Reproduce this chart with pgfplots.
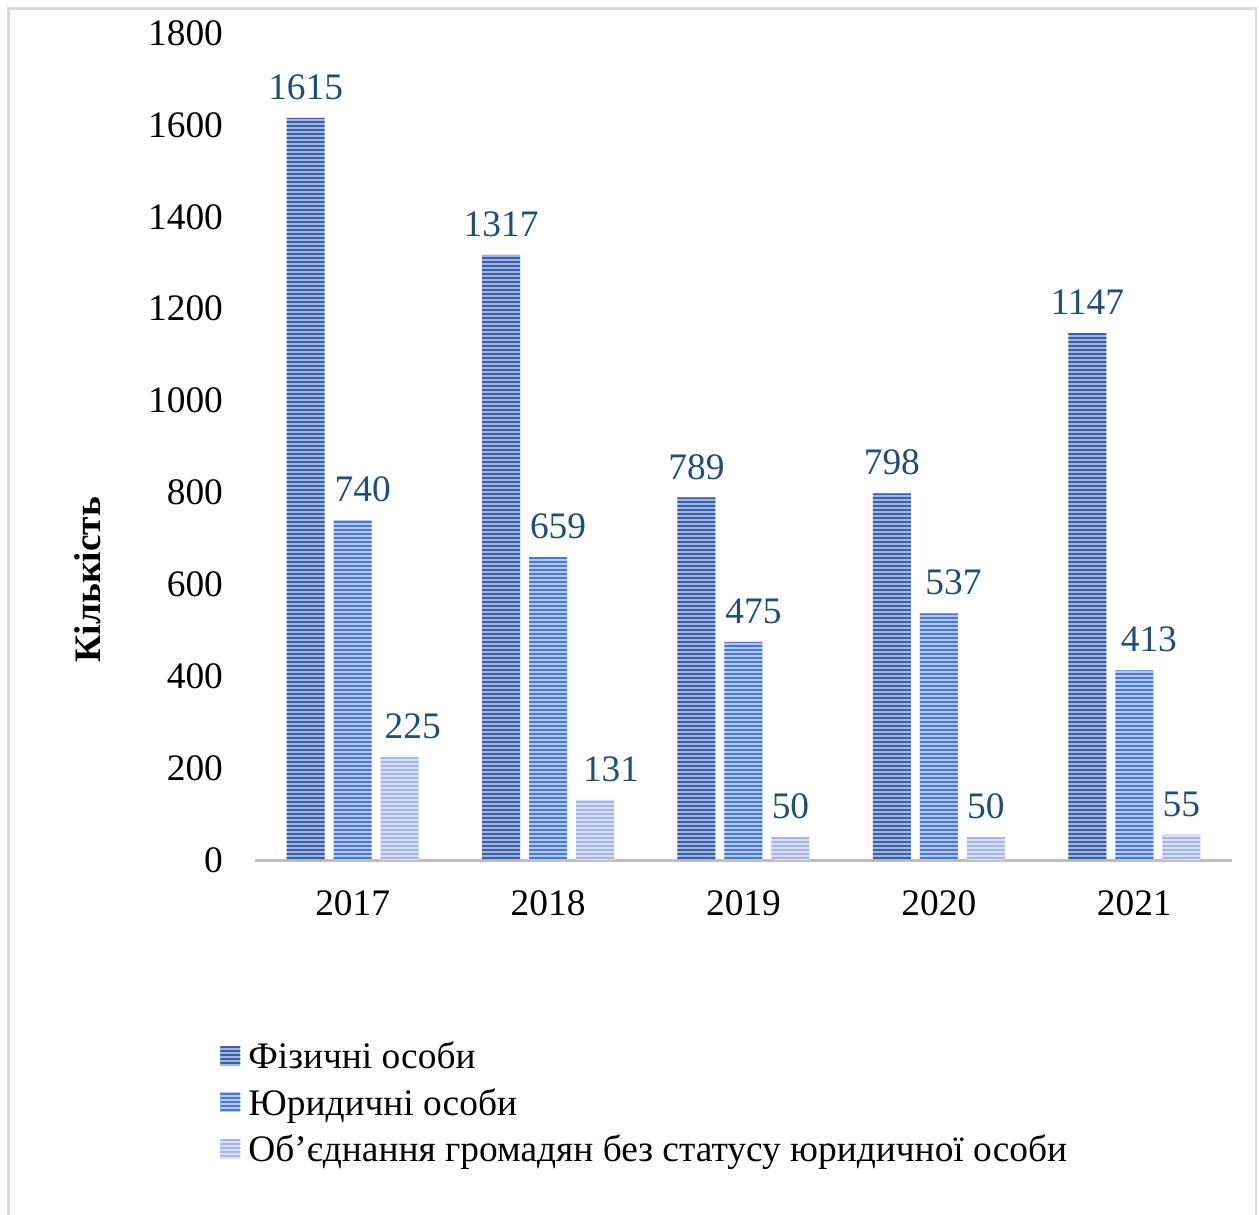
\documentclass[border=0pt]{standalone}
\usepackage{pgfplots}
\pgfplotsset{compat=1.18}
\usepackage{fontspec}
\setmainfont{Liberation Serif}
\usetikzlibrary{patterns.meta}
\definecolor{aL}{HTML}{9FB4DE}
\definecolor{aD}{HTML}{3A61A6}
\definecolor{bL}{HTML}{B3C7EE}
\definecolor{bD}{HTML}{4B79C9}
\definecolor{cL}{HTML}{D6DFF3}
\definecolor{cD}{HTML}{A6B8E2}
\definecolor{lab}{HTML}{1F4E79}
\tikzdeclarepattern{name=hstripes, type=uncolored,
  bounding box={(0,0) and (40pt,2.1pt)}, tile size={(40pt,2.1pt)},
  code={\fill (-1pt,0) rectangle (41pt,1.05pt);}}
\newcommand{\fs}{\fontsize{18.7}{22}\selectfont}
\begin{document}
\begin{tikzpicture}
\useasboundingbox (-127.5pt,-177.5pt) rectangle (502pt,430pt);
\begin{axis}[
  at={(0,0)}, anchor=south west,
  width=488.5pt, height=413.5pt, scale only axis,
  xmin=-0.5, xmax=4.5, ymin=0, ymax=1800,
  xtick={0,1,2,3,4}, xticklabels={2017,2018,2019,2020,2021},
  ytick={0,200,...,1800},
  major tick length=0pt,
  axis x line*=bottom, axis y line*=left,
  x axis line style={-, draw=black!25, line width=1.5pt},
  y axis line style={draw=none},
  /pgf/number format/assume math mode=true,
  /pgf/number format/1000 sep={},
  ticklabel style={font=\fs, text=black},
  yticklabel style={xshift=-12.5pt},
  xticklabel style={yshift=-12pt},
  ybar, bar width=19pt,
  nodes near coords,
  every node near coord/.append style={font=\fs, text=lab, yshift=5.5pt},
  legend style={draw=none, font=\fs, at={(-0.042,-0.21)}, anchor=north west,
    row sep=4.3pt, cells={anchor=west}},
  legend image code/.code={\path[#1] (0pt,-4.5pt) rectangle (10pt,5.5pt);},
  clip=false,
]
\addplot[draw=none, fill=aL, postaction={pattern=hstripes, pattern color=aD}, bar shift=-23.5pt]
  coordinates {(0,1615) (1,1317) (2,789) (3,798) (4,1147)};
\addlegendentry{\hspace{2pt}Фізичні особи}
\addplot[draw=none, fill=bL, postaction={pattern=hstripes, pattern color=bD}, bar shift=0pt,
  visualization depends on={x \as \xb},
  every node near coord/.append style={xshift={ifthenelse(\xb<2.5,5pt,7.3pt)}}]
  coordinates {(0,740) (1,659) (2,475) (3,537) (4,413)};
\addlegendentry{\hspace{2pt}Юридичні особи}
\addplot[draw=none, fill=cL, postaction={pattern=hstripes, pattern color=cD}, bar shift=23.5pt,
  visualization depends on={x \as \xv},
  every node near coord/.append style={xshift={ifthenelse(\xv<0.5,6.5pt,ifthenelse(\xv<1.5,8pt,0pt))}}]
  coordinates {(0,225) (1,131) (2,50) (3,50) (4,55)};
\addlegendentry{\hspace{2pt}Об’єднання громадян без статусу юридичної особи}
\node[rotate=90, font=\fs\bfseries] at (axis description cs:-0.171,0.339) {Кількість};
\end{axis}
\draw[black!15, line width=1.25pt] (-123.25pt,-190pt) -- (-123.25pt,425.75pt) -- (500.5pt,425.75pt) -- (500.5pt,-190pt);
\end{tikzpicture}
\end{document}
